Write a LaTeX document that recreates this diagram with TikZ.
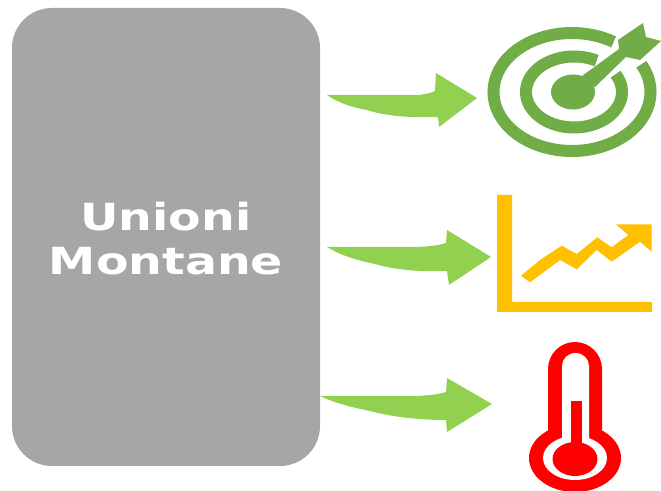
\documentclass[tikz,border=0pt]{standalone}
\usepackage{fontspec}
\setmainfont{DejaVu Sans}
\definecolor{boxgray}{HTML}{A6A6A6}
\definecolor{arrowgreen}{HTML}{92D050}
\definecolor{targetgreen}{HTML}{70AD47}
\definecolor{chartgold}{HTML}{FFC000}
\tikzset{
  panel/.style={fill=boxgray,rounded corners=30pt,minimum width=231pt,minimum height=343.5pt,inner sep=0pt},
  blockarrow/.style={fill=arrowgreen},
  tring/.style={draw=targetgreen,line width=9pt},
  label/.style={text=white,font=\bfseries\fontsize{28}{33}\selectfont,align=center,xscale=1.27,transform shape}
}
\begin{document}
\begin{tikzpicture}[x=0.75pt,y=-0.75pt]
\useasboundingbox (0,0) rectangle (661,491);
\fill[white] (0,0) rectangle (661,491);
\node[panel] (box) at (166,237) {};
\node[label] (title) at (166,239) {Unioni\\Montane};
% arrows
\fill[blockarrow] (327,95) -- (417,95) .. controls (425,94.5) and (431,93) .. (435,91) -- (436,73) -- (477,98) -- (439,127) -- (438,117) .. controls (410,118) and (385,116) .. (367,110) .. controls (350,107) and (337,102) .. (327,95) -- cycle;
\fill[blockarrow] (327,247) -- (417,247) .. controls (430,246.5) and (440,245) .. (446,243) -- (447,230) -- (491,257) -- (449,285) -- (447,271) .. controls (420,272) and (395,270) .. (375,264) .. controls (355,260) and (338,254) .. (327,247) -- cycle;
\fill[blockarrow] (320,396) -- (415,396) .. controls (430,395.5) and (440,394) .. (446,392) -- (447,378) -- (492,404) -- (447,432) -- (446,420) .. controls (420,420) and (392,417) .. (370,411) .. controls (350,407) and (332,402) .. (320,396) -- cycle;
% target
\draw[tring] (572,92) ++(-28:78.5 and 59) arc[start angle=-28,end angle=302,x radius=78.5,y radius=59];
\draw[tring] (574,92) ++(-30:48 and 35.5) arc[start angle=-30,end angle=298,x radius=48,y radius=35.5];
\fill[targetgreen] (573,92) ellipse[x radius=22,y radius=17.5];
\fill[targetgreen] (582,76) -- (619,49) -- (618,40) -- (643,23) -- (646,37) -- (661,41) -- (640,60) -- (626,57) -- (595,87) -- cycle;
% chart
\fill[chartgold] (497,195) -- (512,195) -- (512,302) -- (652,302) -- (652,312) -- (497,312) -- cycle;
\fill[chartgold] (521,275.7) -- (540,260) -- (561.7,245.7) -- (576.7,254) -- (597.3,237.3) -- (611.7,247.3) -- (628.3,235) -- (616,224.3) -- (651.7,224.3) -- (651.7,251.7) -- (640,241.7) -- (611.7,261.7) -- (596.7,250) -- (576.7,269.3) -- (560,260) -- (530,282.3) -- cycle;
% thermometer
\fill[red] (575,458) ellipse[x radius=46,y radius=34];
\fill[red] (548,440) -- (548,369) arc[start angle=180,end angle=360,x radius=27,y radius=27] -- (602,440) -- cycle;
\fill[white] (575,458) ellipse[x radius=32,y radius=22];
\fill[white] (562,445) -- (562,366) arc[start angle=180,end angle=360,x radius=13.5,y radius=13] -- (589,445) -- cycle;
\fill[red] (575,459) ellipse[x radius=22.5,y radius=17];
\fill[red] (571,401) rectangle (582,450);
\end{tikzpicture}
\end{document}
